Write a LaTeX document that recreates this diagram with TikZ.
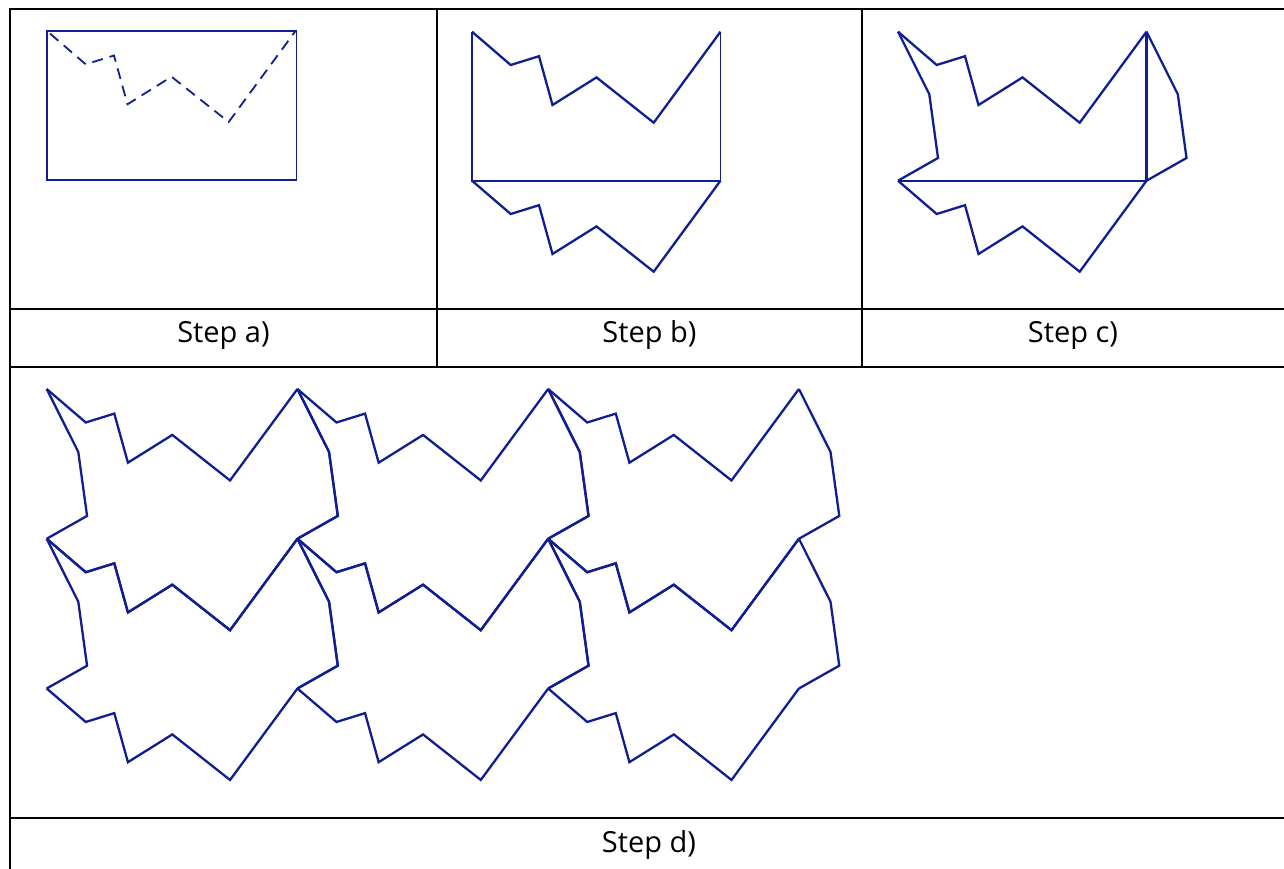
\documentclass[tikz,border=0pt]{standalone}
\usepackage{fontspec}
\setmainfont{Open Sans}
\definecolor{tileblue}{RGB}{16,30,145}
\tikzset{
  grid line/.style={draw=black,line width=2.4pt},
  blueline/.style={draw=tileblue,line width=2.3pt,line join=miter},
  thinblue/.style={draw=tileblue,line width=1.8pt},
  steplabel/.style={font=\fontsize{29}{34}\selectfont,anchor=base,inner sep=0pt}
}
\newcommand\curveC{(0,0) -- (38.7,33.3) -- (67,24.5) -- (80.5,73.3) -- (124.5,45.7) -- (181.7,91) -- (248.5,0)}
\newcommand\curveL{(0,0) -- (31.3,62.6) -- (40,126.3) -- (0,149)}
\begin{document}
\begin{tikzpicture}[x=1pt,y=-1pt]
\useasboundingbox (0,0) rectangle (1284,869);
% table
\draw[grid line] (10,869) -- (10,9) -- (1284,9);
\draw[grid line] (437,9) -- (437,367);
\draw[grid line] (862,9) -- (862,367);
\draw[grid line] (10,309) -- (1284,309);
\draw[grid line] (10,367) -- (1284,367);
\draw[grid line] (10,818) -- (1284,818);
% labels
\node[steplabel] (la) at (223.5,342) {Step a)};
\node[steplabel] (lb) at (649.5,342) {Step b)};
\node[steplabel] (lc) at (1073,342) {Step c)};
\node[steplabel] (ld) at (649,852) {Step d)};
% step a
\begin{scope}[shift={(47,31)}]
  \draw[thinblue] (0,0) rectangle (249.5,149.3);
  \draw[thinblue,dash pattern=on 11pt off 7pt,dash phase=14pt] \curveC;
\end{scope}
% step b
\begin{scope}[shift={(472,31.7)}]
  \draw[blueline] \curveC;
  \draw[thinblue] (0,0) -- (0,149) -- (248.5,149) -- (248.5,0);
  \draw[blueline,shift={(0,149)}] \curveC;
\end{scope}
% step c
\begin{scope}[shift={(898,31.7)}]
  \draw[blueline] \curveC;
  \draw[blueline] \curveL;
  \draw[blueline,shift={(248.5,0)}] \curveL;
  \draw[blueline] (0,149) -- (248.5,149);
  \draw[blueline] (248.5,0) -- (248.5,149);
  \draw[blueline,shift={(0,149)}] \curveC;
\end{scope}
% step d
\begin{scope}[shift={(46.7,389)},xscale=1.009,yscale=1.005]
  \foreach \i in {0,1,2}{
    \foreach \j in {0,1}{
      \begin{scope}[shift={(248.5*\i,149*\j)}]
        \draw[blueline] \curveC;
        \draw[blueline] \curveL;
        \draw[blueline,shift={(248.5,0)}] \curveL;
        \draw[blueline,shift={(0,149)}] \curveC;
      \end{scope}
    }
  }
\end{scope}
\end{tikzpicture}
\end{document}
